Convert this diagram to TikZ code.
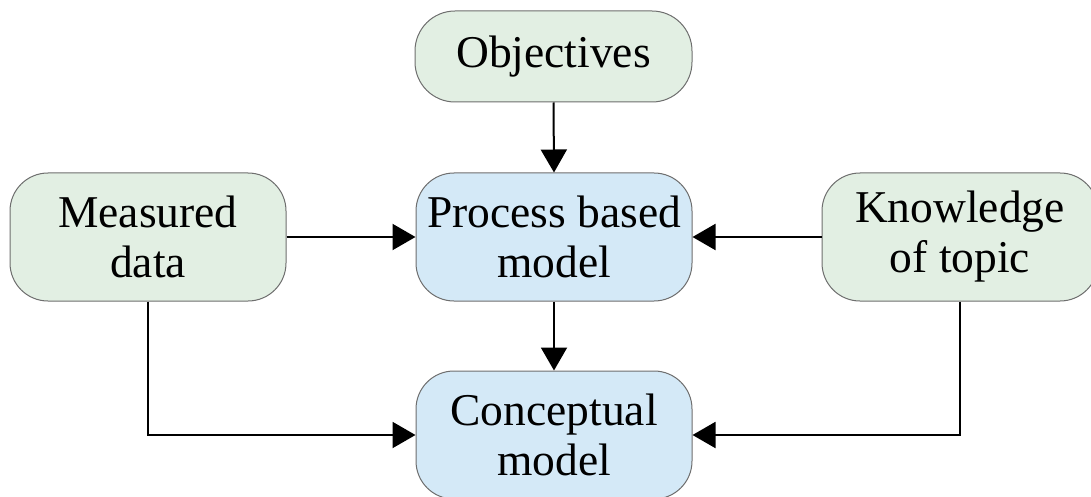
\documentclass[tikz,border=0pt]{standalone}
\usepackage{fontspec}
\setmainfont{Liberation Serif}
\usetikzlibrary{arrows.meta}
\definecolor{boxgreen}{RGB}{226,239,227}
\definecolor{boxblue}{RGB}{212,233,247}
\definecolor{boxline}{RGB}{110,110,110}
\tikzset{
  box/.style={draw=boxline, line width=1pt, rounded corners=38pt, minimum width=276pt,
    minimum height=128pt, align=center, inner sep=0pt,
    font=\fontsize{45.5}{50}\selectfont},
  gbox/.style={box, fill=boxgreen},
  bbox/.style={box, fill=boxblue},
  conn/.style={line width=2pt, -{Triangle[length=23pt,width=26pt]}}
}
\begin{document}
\begin{tikzpicture}[x=1pt,y=-1pt]
\useasboundingbox (0,0) rectangle (1091,497);
\clip (0,0) rectangle (1091,497);
\node[gbox, minimum width=277pt, minimum height=91pt, rounded corners=40pt] (obj) at (553.5,56.5) {Objectives};
\node[gbox] (meas) at (148,237) {Measured\\data};
\node[bbox] (proc) at (554,237) {Process based\\model};
\node[gbox] (know) at (960,237) {Knowledge\\of topic};
\node[bbox] (conc) at (554,435) {Conceptual\\model};
\draw[conn] (obj.south) -- (proc.north);
\draw[conn] (meas.east) -- (proc.west);
\draw[conn] (know.west) -- (proc.east);
\draw[conn] (proc.south) -- (conc.north);
\draw[conn] (meas.south) |- (conc.west);
\draw[conn] (know.south) |- (conc.east);
\end{tikzpicture}
\end{document}
